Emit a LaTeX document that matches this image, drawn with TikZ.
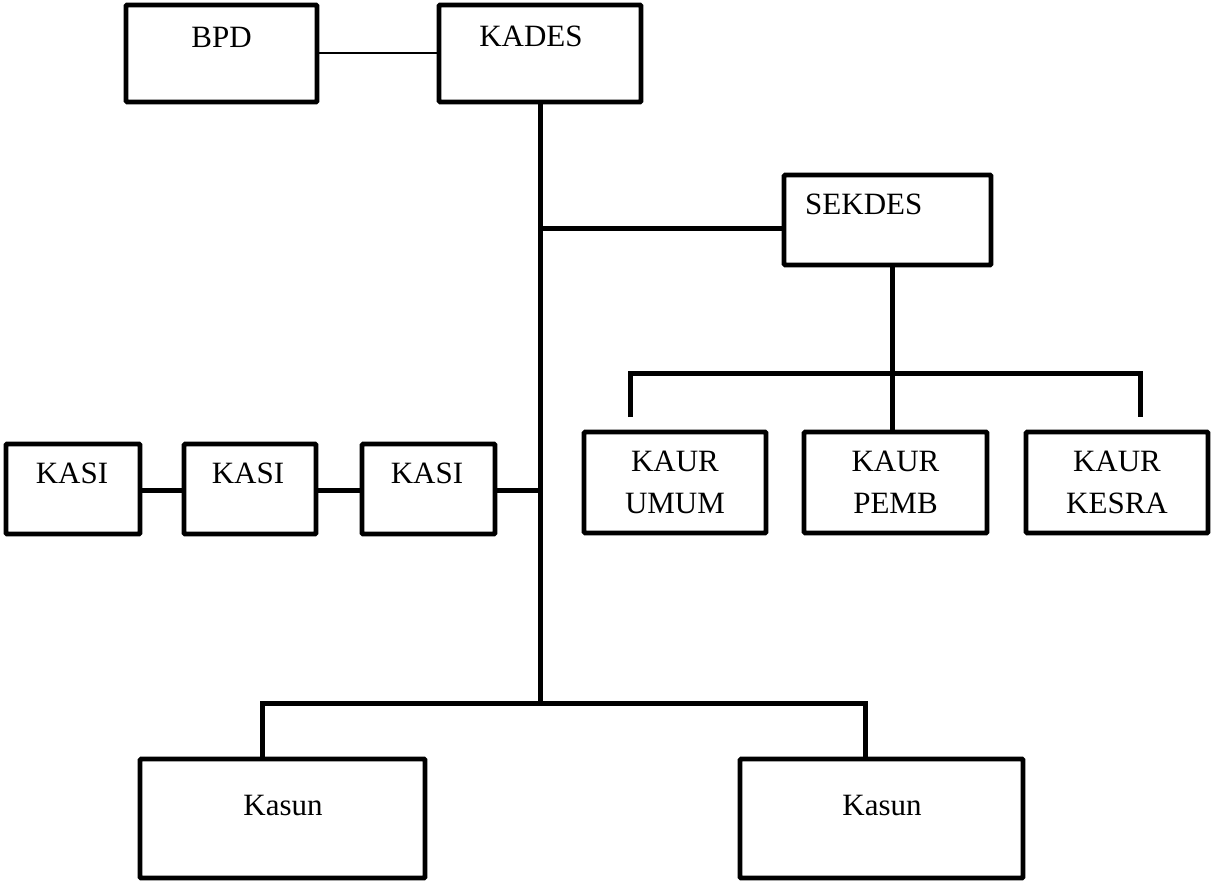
\documentclass[tikz,border=0pt]{standalone}
\usepackage{fontspec}
\setmainfont{Liberation Serif}
\begin{document}
\begin{tikzpicture}[x=1pt,y=-1pt,
  box/.style={draw=black, line width=4.6pt, rectangle, inner sep=0pt, rounded corners=1pt},
  lbl/.style={inner sep=0pt, font=\fontsize{31}{42}\selectfont},
  mlbl/.style={inner sep=0pt, align=center, font=\fontsize{31}{42}\selectfont},
  conn/.style={draw=black, line width=5pt},
  thin/.style={draw=black, line width=2pt}]
\useasboundingbox (0,0) rectangle (1212,885);
\fill[white] (0,0) rectangle (1212,885);

% boxes
\node[box, minimum width=191pt, minimum height=97pt] (bpd) at (221.5,53.5) {};
\node[box, minimum width=202pt, minimum height=97pt] (kades) at (540,53.5) {};
\node[box, minimum width=207pt, minimum height=90pt] (sekdes) at (887.5,220) {};
\node[box, minimum width=182pt, minimum height=101pt] (umum) at (675,482.5) {};
\node[box, minimum width=183pt, minimum height=101pt] (pemb) at (895.5,482.5) {};
\node[box, minimum width=182pt, minimum height=101pt] (kesra) at (1117,482.5) {};
\node[box, minimum width=134pt, minimum height=90pt] (kasi1) at (73,489) {};
\node[box, minimum width=132pt, minimum height=90pt] (kasi2) at (250,489) {};
\node[box, minimum width=133pt, minimum height=90pt] (kasi3) at (428.5,489) {};
\node[box, minimum width=285pt, minimum height=119pt] (kasun1) at (282.5,818.5) {};
\node[box, minimum width=283pt, minimum height=119pt] (kasun2) at (881.5,818.5) {};

% texts
\node[lbl, anchor=base] (tbpd) at (221.5,48) {BPD};
\node[lbl, anchor=base] (tkades) at (531,47) {KADES};
\node[lbl, anchor=base west] (tsekdes) at (805,215) {SEKDES};
\node[mlbl] (tumum) at (umum.center) {KAUR\\UMUM};
\node[mlbl] (tpemb) at (pemb.center) {KAUR\\PEMB};
\node[mlbl] (tkesra) at (kesra.center) {KAUR\\KESRA};
\node[lbl, anchor=base] (tkasi1) at (72,483) {KASI};
\node[lbl, anchor=base] (tkasi2) at (248,483) {KASI};
\node[lbl, anchor=base] (tkasi3) at (427,483) {KASI};
\node[lbl, anchor=base] (tkasun1) at (283,815) {Kasun};
\node[lbl, anchor=base] (tkasun2) at (882,815) {Kasun};

% junction coordinates
\coordinate (jsek) at (540,229);
\coordinate (jkasi) at (540,490);
\coordinate (jbot) at (540,703);
\coordinate (sdown) at (892,267);
\coordinate (kbar) at (892,373);
\coordinate (kl) at (630,417);
\coordinate (kr) at (1140,417);
\coordinate (bl) at (262,757);
\coordinate (br) at (865,757);

% connectors
\draw[thin] (bpd.east) -- (kades.west);
\draw[conn] (kades.south) -- (jbot);
\draw[conn] (jsek) -- (jsek -| sekdes.west);
\draw[conn] (sdown) -- (sdown |- pemb.north);
\draw[conn, line join=miter] (kl) -- (kl |- kbar) -- (kr |- kbar) -- (kr);
\draw[conn] (kasi1.east |- jkasi) -- (kasi2.west |- jkasi);
\draw[conn] (kasi2.east |- jkasi) -- (kasi3.west |- jkasi);
\draw[conn] (kasi3.east |- jkasi) -- (jkasi);
\draw[conn, line join=miter] (bl) -- (bl |- jbot) -- (br |- jbot) -- (br);
\end{tikzpicture}
\end{document}
